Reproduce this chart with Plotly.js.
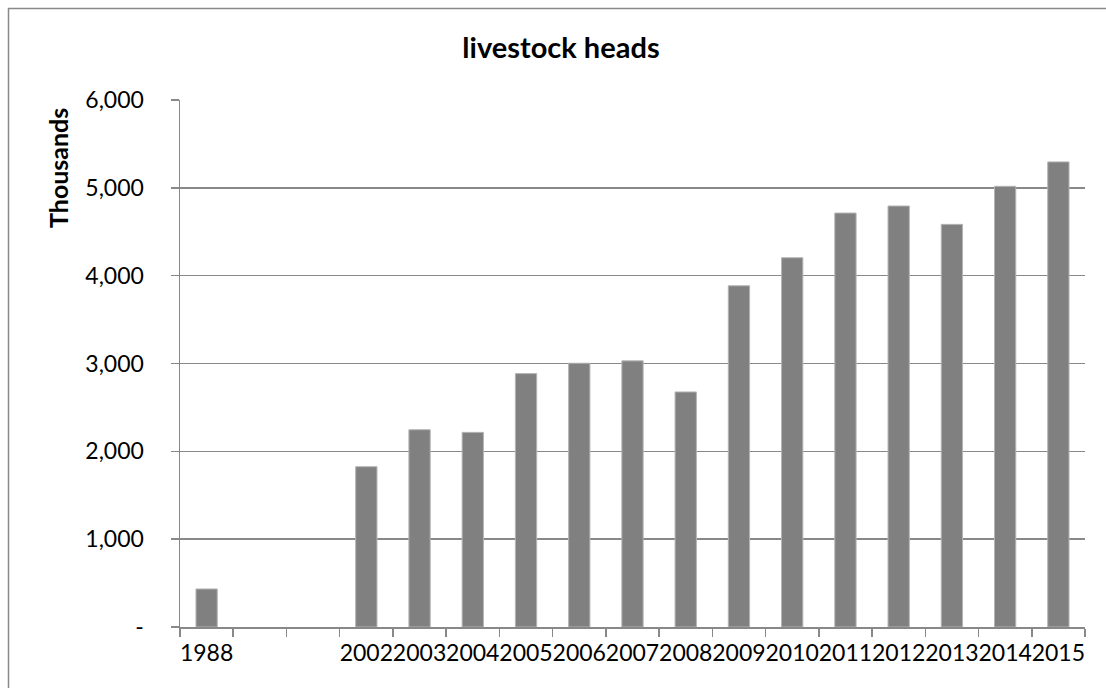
<!DOCTYPE html>
<html>
<head>
<meta charset="utf-8">
<script src="https://cdn.plot.ly/plotly-3.0.1.min.js"></script>
<style>
  html, body { margin: 0; padding: 0; background: #ffffff; }
  #chart { width: 1106px; height: 688px; }
</style>
</head>
<body>
<div id="chart"></div>
<script>
// Category keys (two blank slots between 1988 and 2002)
var categories = ["1988", "gap1", "gap2", "2002", "2003", "2004", "2005", "2006", "2007", "2008", "2009", "2010", "2011", "2012", "2013", "2014", "2015"];
var categoryLabels = ["1988", "", "", "2002", "2003", "2004", "2005", "2006", "2007", "2008", "2009", "2010", "2011", "2012", "2013", "2014", "2015"];
// Livestock heads, thousands
var heads = [433, null, null, 1825, 2246, 2216, 2885, 3003, 3030, 2676, 3885, 4204, 4713, 4793, 4584, 5017, 5295];
var yTickVals = [0, 1000, 2000, 3000, 4000, 5000, 6000];
var yTickText = ["-", "1,000", "2,000", "3,000", "4,000", "5,000", "6,000"];

var FONT = "Lato, 'Open Sans', sans-serif";

var trace = {
  type: "bar",
  x: categories,
  y: heads,
  marker: { color: "#808080", line: { color: "#b4b4b4", width: 1 } },
  hoverinfo: "x+y"
};

var L = 180, R = 21, T = 100, B = 61;
var W = 1106, H = 688;
var pw = W - L - R, ph = H - T - B;

var layout = {
  width: W,
  height: H,
  margin: { l: L, r: R, t: T, b: B, pad: 0 },
  paper_bgcolor: "#ffffff",
  plot_bgcolor: "#ffffff",
  showlegend: false,
  bargap: 0.6,
  font: { family: FONT, color: "#000000", size: 23 },
  title: {
    text: "<b>livestock heads</b>",
    font: { family: FONT, size: 29, color: "#000000" },
    x: 561 / W, xref: "container", xanchor: "center",
    y: 1 - 48 / H, yref: "container", yanchor: "middle"
  },
  xaxis: {
    type: "category",
    tickvals: categories,
    ticktext: categoryLabels,
    tickson: "boundaries",
    ticks: "outside",
    ticklen: 8,
    tickcolor: "#888888",
    tickwidth: 1.5,
    ticklabelstandoff: 5,
    showline: true,
    linecolor: "#888888",
    linewidth: 1.5,
    showgrid: false,
    zeroline: false,
    tickfont: { family: FONT, size: 23, color: "#000000" },
    tickangle: 0,
    fixedrange: true
  },
  yaxis: {
    range: [0, 6000],
    tickvals: yTickVals,
    ticktext: yTickText,
    ticks: "outside",
    ticklen: 8,
    tickcolor: "#888888",
    tickwidth: 1.5,
    ticklabelstandoff: 22,
    showline: true,
    linecolor: "#888888",
    linewidth: 1.5,
    showgrid: true,
    gridcolor: "#888888",
    gridwidth: 1.5,
    zeroline: false,
    tickfont: { family: FONT, size: 23, color: "#000000" },
    fixedrange: true
  },
  annotations: [
    {
      text: "<b>Thousands</b>",
      xref: "paper", yref: "paper",
      x: (58 - L) / pw, y: 1 + (T - 168) / ph,
      xanchor: "center", yanchor: "middle",
      textangle: -90,
      showarrow: false,
      font: { family: FONT, size: 25, color: "#000000" }
    }
  ],
  shapes: [
    {
      type: "rect", xref: "paper", yref: "paper",
      x0: (8.5 - L) / pw, x1: (W + 20 - L) / pw,
      y0: -(B + 20) / ph, y1: 1 + (T - 8.5) / ph,
      line: { color: "#888888", width: 1.5 },
      fillcolor: "rgba(0,0,0,0)",
      layer: "below"
    }
  ]
};

Plotly.newPlot("chart", [trace], layout, { displayModeBar: false, staticPlot: true });
</script>
</body>
</html>
